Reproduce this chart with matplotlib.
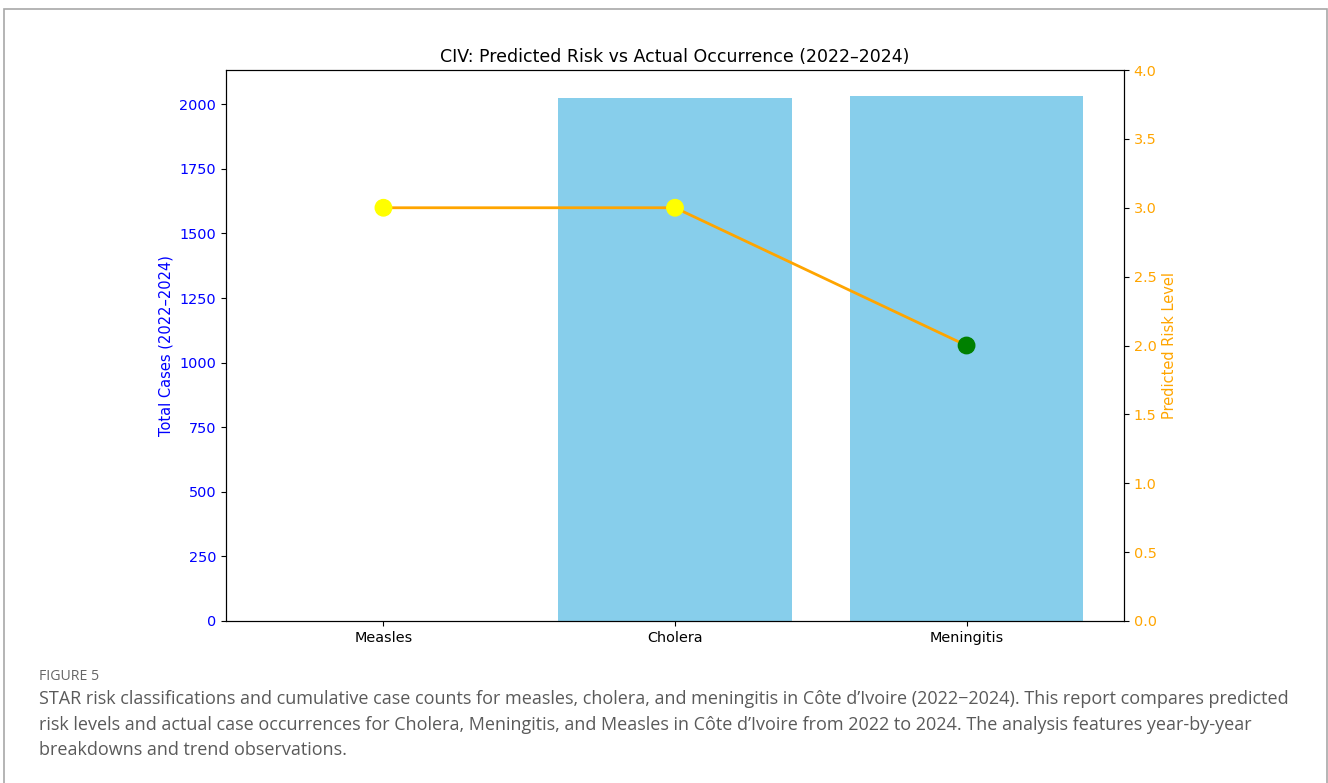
import matplotlib.pyplot as plt
from matplotlib.patches import Rectangle

# data
diseases = ["Measles", "Cholera", "Meningitis"]
total_cases = [0, 2024, 2031]
risk_level = [3, 3, 2]
risk_colors = ["yellow", "yellow", "green"]

caption_head = "FIGURE 5"
caption_lines = [
    "STAR risk classifications and cumulative case counts for measles, cholera, and meningitis in C\u00f4te d\u2019Ivoire (2022\u22122024). This report compares predicted",
    "risk levels and actual case occurrences for Cholera, Meningitis, and Measles in C\u00f4te d\u2019Ivoire from 2022 to 2024. The analysis features year-by-year",
    "breakdowns and trend observations.",
]

W, H = 1328, 783
fig = plt.figure(figsize=(W / 100, H / 100), dpi=100)

# frame around figure + caption
fig.patches.append(Rectangle((4 / W, -0.05), 1323 / W, 1 - 9 / H + 0.05,
                             transform=fig.transFigure, fill=False,
                             edgecolor="#a8a8a8", linewidth=1.2))

ax = fig.add_axes([226 / W, 1 - 621 / H, (1124 - 226) / W, (621 - 70) / H])
ax.bar(diseases, total_cases, color="skyblue", width=0.8)
ax.set_ylabel("Total Cases (2022\u20132024)", color="blue", fontsize=10.5)
ax.tick_params(axis="y", labelcolor="blue")
ax.tick_params(labelsize=10.4)

ax2 = ax.twinx()
ax2.plot(diseases, risk_level, color="orange", linewidth=2, zorder=2)
ax2.scatter(diseases, risk_level, c=risk_colors, s=140, zorder=3)
ax2.set_ylim(0, 4)
ax2.set_ylabel("Predicted Risk Level", color="orange", fontsize=10.5)
ax2.tick_params(axis="y", labelcolor="orange", labelsize=10.4)

ax.set_title("CIV: Predicted Risk vs Actual Occurrence (2022\u20132024)", fontsize=12.5)

# caption
fig.text(39 / W, 1 - 676 / H, caption_head, fontsize=10.2, color="#666666",
         family="Open Sans", va="center")
for i, line in enumerate(caption_lines):
    fig.text(39 / W, 1 - (699 + 25.5 * i) / H, line, fontsize=12.95,
             color="#5a5a5a", family="Open Sans", va="center")

fig.savefig("out.png", dpi=100)
